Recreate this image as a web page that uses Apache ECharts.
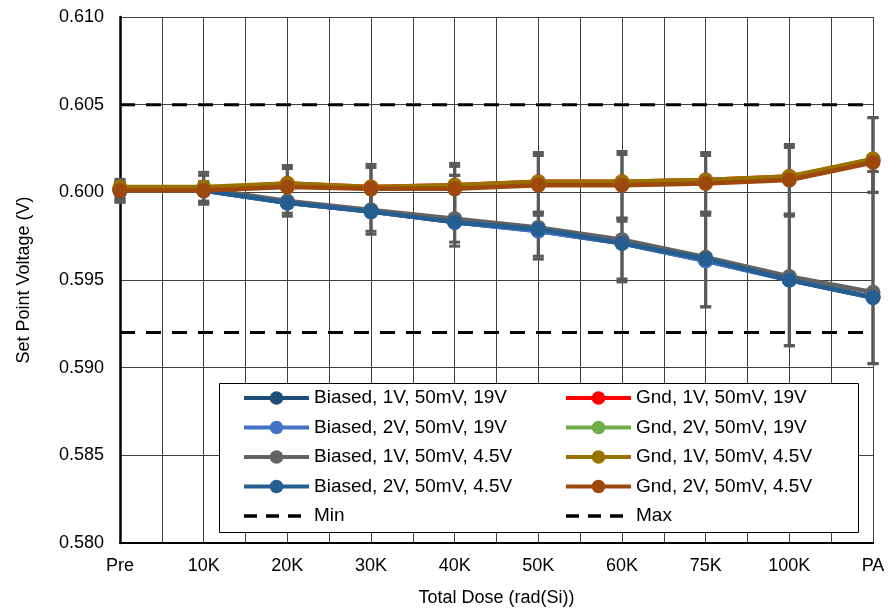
<!DOCTYPE html>
<html>
<head>
<meta charset="utf-8">
<script src="https://cdn.jsdelivr.net/npm/echarts@6/dist/echarts.min.js"></script>
<style>html,body{margin:0;padding:0;background:#fff;}#c{width:888px;height:612px;}</style>
</head>
<body>
<div id="c"></div>
<script>
// ---- data ----
const categories = ['Pre', '10K', '20K', '30K', '40K', '50K', '60K', '75K', '100K', 'PA'];
const yTicks = [0.580, 0.585, 0.590, 0.595, 0.600, 0.605, 0.610];

const biased1V19 = [0.6001, 0.6001, 0.5994, 0.5989, 0.5983, 0.5978, 0.5971, 0.5961, 0.5950, 0.5940];
const biased2V19 = [0.6001, 0.6001, 0.5994, 0.5989, 0.5983, 0.5978, 0.5971, 0.5961, 0.5950, 0.5940];
const biased1V45 = [0.6002, 0.6002, 0.5995, 0.5990, 0.5985, 0.5980, 0.5973, 0.5963, 0.5952, 0.5943];
const biased2V45 = [0.6001, 0.6001, 0.5994, 0.5989, 0.5983, 0.5979, 0.5971, 0.5962, 0.5950, 0.5940];
const gnd1V19 = [0.6002, 0.6002, 0.6005, 0.6003, 0.6004, 0.6006, 0.6006, 0.6007, 0.6009, 0.6018];
const gnd2V19 = [0.6002, 0.6002, 0.6004, 0.6002, 0.6003, 0.6005, 0.6005, 0.6006, 0.6008, 0.6019];
const gnd1V45 = [0.6003, 0.6003, 0.6005, 0.6003, 0.6004, 0.6006, 0.6006, 0.6007, 0.6009, 0.6019];
const gnd2V45 = [0.6001, 0.6001, 0.6003, 0.6002, 0.6002, 0.6004, 0.6004, 0.6005, 0.6007, 0.6017];

const minLimit = 0.592;
const maxLimit = 0.605;

// error bar ends
const gndHiA = [0.60074, 0.60114, 0.60153, 0.60159, 0.60165, 0.60227, 0.60233, 0.60227, 0.60273, 0.60426];
const gndHiB = [0.60060, 0.60097, 0.60136, 0.60142, 0.60148, 0.60210, 0.60216, 0.60210, 0.60256, 0.60426];
const gndLoA = [0.59960, 0.59932, 0.59915, 0.59875, 0.59835, 0.59869, 0.59835, 0.59869, 0.59864, 0.60000];
const gndLoB = [0.59970, 0.59940, 0.59930, 0.59890, 0.59840, 0.59886, 0.59852, 0.59886, 0.59875, 0.60000];
const biasHiA = [0.60060, 0.60060, 0.60023, 0.60017, 0.60097, 0.59886, 0.59852, 0.59886, 0.59875, 0.60119];
const biasHiB = [0.60060, 0.60060, 0.60023, 0.60017, 0.60097, 0.59886, 0.59852, 0.59886, 0.59875, 0.60119];
const biasLoA = [0.59943, 0.59940, 0.59864, 0.59761, 0.59693, 0.59619, 0.59489, 0.59347, 0.59125, 0.59023];
const biasLoB = [0.59950, 0.59950, 0.59881, 0.59778, 0.59716, 0.59636, 0.59506, 0.59347, 0.59125, 0.59023];

// ---- chart ----
const FONT = "'Liberation Sans', Arial, sans-serif";
const ERR = '#595959';

function errRender(params, api) {
  const x = api.value(0), lo = api.value(1), hi = api.value(2);
  const pLo = api.coord([x, lo]), pHi = api.coord([x, hi]);
  const cw = 11, ch = 3;
  return {
    type: 'group',
    children: [
      { type: 'line', shape: { x1: pLo[0], y1: pLo[1], x2: pHi[0], y2: pHi[1] }, style: { stroke: ERR, lineWidth: 3 } },
      { type: 'rect', shape: { x: pHi[0] - cw / 2, y: pHi[1] - ch / 2, width: cw, height: ch }, style: { fill: ERR } },
      { type: 'rect', shape: { x: pLo[0] - cw / 2, y: pLo[1] - ch / 2, width: cw, height: ch }, style: { fill: ERR } }
    ]
  };
}
function errSeries(lo, hi) {
  return {
    type: 'custom', renderItem: errRender, z: 1, silent: true,
    encode: { x: 0, y: [1, 2] },
    data: categories.map((c, i) => [i, lo[i], hi[i]])
  };
}
function lineSeries(name, data, color, z) {
  return {
    name: name, type: 'line', data: data, z: z,
    symbol: 'circle', symbolSize: 15,
    lineStyle: { color: color, width: 4.5 },
    itemStyle: { color: color },
    emphasis: { disabled: true }
  };
}
function limitSeries(name, v) {
  return {
    name: name, type: 'line', data: categories.map(() => v), z: 4,
    symbol: 'none',
    lineStyle: { color: '#000', width: 3, type: [15, 11] },
    itemStyle: { color: '#000' },
    emphasis: { disabled: true }
  };
}

function legendItems(names) {
  return names.map(n => (n === 'Min' || n === 'Max')
    ? { name: n, itemStyle: { color: 'rgba(0,0,0,0)', opacity: 0 }, lineStyle: { width: 3.5, type: [13, 9], color: '#000' } }
    : { name: n, lineStyle: { width: 4 } });
}
const leftNames = ['Biased, 1V, 50mV, 19V', 'Biased, 2V, 50mV, 19V', 'Biased, 1V, 50mV, 4.5V', 'Biased, 2V, 50mV, 4.5V', 'Min'];
const rightNames = ['Gnd, 1V, 50mV, 19V', 'Gnd, 2V, 50mV, 19V', 'Gnd, 1V, 50mV, 4.5V', 'Gnd, 2V, 50mV, 4.5V', 'Max'];

const legendCommon = {
  orient: 'vertical', top: 388, itemWidth: 65, itemHeight: 17, itemGap: 9.5, padding: 0,
  selectedMode: false, z: 20,
  textStyle: { fontFamily: FONT, fontSize: 19, color: '#000', lineHeight: 20 }
};

const option = {
  animation: false,
  backgroundColor: '#fff',
  textStyle: { fontFamily: FONT },
  grid: { left: 120, right: 15, top: 17, bottom: 67 },
  graphic: [{
    type: 'rect', z: 10,
    shape: { x: 219.5, y: 383.5, width: 639, height: 149 },
    style: { fill: '#fff', stroke: '#000', lineWidth: 1 }
  }],
  legend: [
    Object.assign({ left: 242, data: legendItems(leftNames) }, legendCommon),
    Object.assign({ left: 564, data: legendItems(rightNames) }, legendCommon)
  ],
  xAxis: [{
    type: 'category', data: categories, boundaryGap: false,
    axisLine: { lineStyle: { color: '#000', width: 2 } },
    axisTick: { show: false },
    axisLabel: { color: '#000', fontSize: 18, fontFamily: FONT, margin: 14 },
    splitLine: { show: false },
    name: 'Total Dose (rad(Si))', nameLocation: 'middle', nameGap: 46,
    nameTextStyle: { color: '#000', fontSize: 18, fontFamily: FONT }
  }, {
    type: 'value', min: 0, max: categories.length - 1, interval: 0.5, position: 'top',
    axisLine: { show: false }, axisTick: { show: false }, axisLabel: { show: false },
    splitLine: { show: true, lineStyle: { color: '#404040', width: 1 } }
  }],
  yAxis: {
    type: 'value', min: yTicks[0], max: yTicks[yTicks.length - 1], interval: 0.005,
    axisLine: { show: true, lineStyle: { color: '#000', width: 2.5 } },
    axisTick: { show: false },
    axisLabel: { color: '#000', fontSize: 18, fontFamily: FONT, margin: 16, formatter: v => v.toFixed(3) },
    splitLine: { lineStyle: { color: '#404040', width: 1 } },
    name: 'Set Point Voltage (V)', nameLocation: 'middle', nameGap: 87,
    nameTextStyle: { color: '#000', fontSize: 18, fontFamily: FONT }
  },
  series: [
    errSeries(gndLoA, gndHiA),
    errSeries(gndLoB, gndHiB),
    errSeries(biasLoA, biasHiA),
    errSeries(biasLoB, biasHiB),
    limitSeries('Min', minLimit),
    limitSeries('Max', maxLimit),
    lineSeries('Biased, 1V, 50mV, 19V', biased1V19, '#1f4e79', 5),
    lineSeries('Biased, 2V, 50mV, 19V', biased2V19, '#4472c4', 5),
    lineSeries('Biased, 1V, 50mV, 4.5V', biased1V45, '#636363', 5),
    lineSeries('Biased, 2V, 50mV, 4.5V', biased2V45, '#255e91', 5),
    lineSeries('Gnd, 1V, 50mV, 19V', gnd1V19, '#ff0000', 6),
    lineSeries('Gnd, 2V, 50mV, 19V', gnd2V19, '#70ad47', 6),
    lineSeries('Gnd, 1V, 50mV, 4.5V', gnd1V45, '#997300', 6),
    lineSeries('Gnd, 2V, 50mV, 4.5V', gnd2V45, '#9e480e', 6)
  ]
};

const chart = echarts.init(document.getElementById('c'), null, { renderer: 'canvas' });
chart.setOption(option);
</script>
</body>
</html>
